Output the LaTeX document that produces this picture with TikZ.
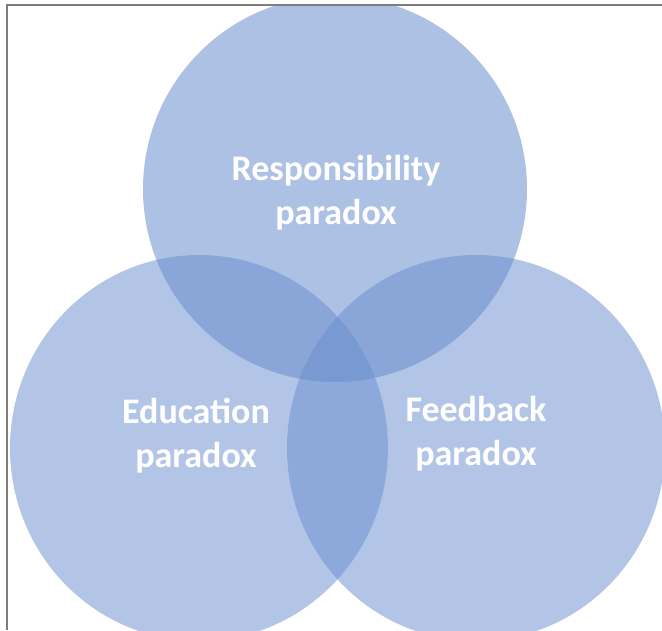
\documentclass[tikz,border=0pt]{standalone}
\usepackage{fontspec}
\setmainfont{Carlito}
\begin{document}
\begin{tikzpicture}[x=1pt,y=-1pt,
  venn/.style={fill=vennblue,fill opacity=0.5,draw=none},
  venntop/.style={fill=vennblue,fill opacity=0.54,draw=none},
  vennlabel/.style={text=white,font=\fontsize{36}{44}\selectfont\bfseries,align=center,anchor=base},
  frameline/.style={draw=framegray,line width=1.6pt}]
\definecolor{vennblue}{RGB}{105,141,207}
\definecolor{framegray}{RGB}{125,125,125}
\useasboundingbox (0,0) rectangle (662,630);
\fill[white] (0,0) rectangle (662,630);
% the three overlapping sets
\begin{scope}
  \clip (7,5) rectangle (662,630);
  \fill[venntop] (335,189) ellipse [x radius=192, y radius=193];
  \fill[venn] (199,448) ellipse [x radius=189, y radius=193];
  \fill[venn] (476,448) ellipse [x radius=189, y radius=193];
\end{scope}
% labels (anchored on the baseline of their second line)
\node[vennlabel] (resp) at (336,224) {Responsibility\\paradox};
\node[vennlabel] (edu) at (196,467) {Education\\paradox};
\node[vennlabel] (feed) at (476,465) {Feedback\\paradox};
% frame on the top and left sides
\draw[frameline] (662,5) -- (7,5) -- (7,630);
\end{tikzpicture}
\end{document}
